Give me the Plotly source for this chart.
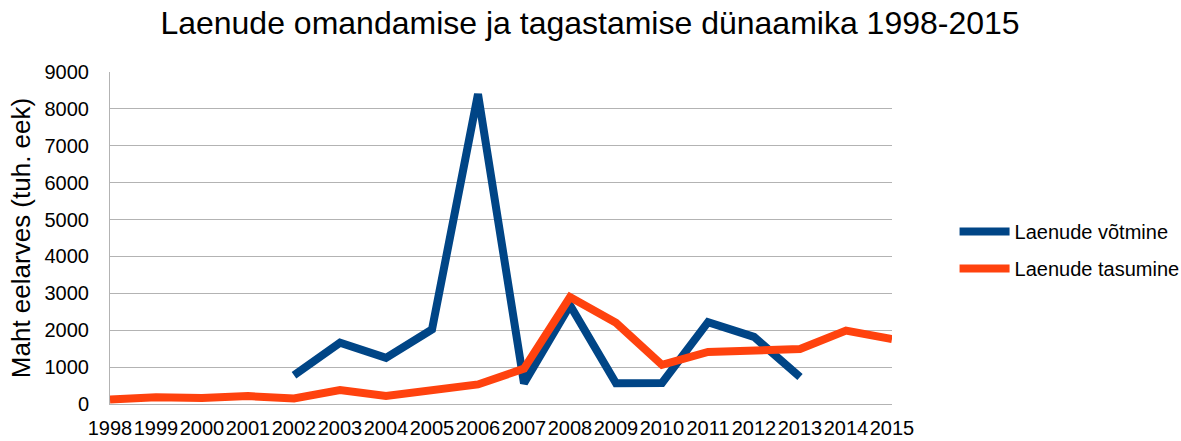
import plotly.graph_objects as go

years = list(range(1998, 2016))
year_labels = [str(y) for y in years]
laenude_votmine = [None, None, None, None, 780, 1660, 1250, 2020, 8400, 560, 2680, 560, 570, 2220, 1820, 730, None, None]
laenude_tasumine = [125, 180, 160, 215, 150, 380, 215, 350, 530, 960, 2900, 2200, 1060, 1410, 1430, 1490, 1990, 1760]
y_ticks = [0, 1000, 2000, 3000, 4000, 5000, 6000, 7000, 8000, 9000]

fig = go.Figure()
fig.add_trace(go.Scatter(x=years, y=laenude_votmine, mode="lines", name="Laenude võtmine",
                         legendgroup="a",
                         line=dict(color="#004586", width=8), connectgaps=False))
fig.add_trace(go.Scatter(x=years, y=laenude_tasumine, mode="lines", name="Laenude tasumine",
                         legendgroup="b",
                         line=dict(color="#ff420e", width=8)))

fig.update_layout(
    width=1181, height=441,
    margin=dict(l=110, r=289, t=72, b=37, autoexpand=False),
    paper_bgcolor="white", plot_bgcolor="white",
    font=dict(family="Liberation Sans, Arial, sans-serif", color="black"),
    title=dict(text="Laenude omandamise ja tagastamise dünaamika 1998-2015",
               x=590 / 1181, xref="container", xanchor="center", y=1 - 23 / 441, yanchor="middle",
               font=dict(size=32), automargin=False),
    showlegend=True,
    legend=dict(x=1.08, xanchor="left", y=0.464, yanchor="middle",
                font=dict(size=20), tracegroupgap=8, itemwidth=50,
                bgcolor="rgba(0,0,0,0)"),
)
fig.update_xaxes(range=[1998, 2015], tickmode="array", tickvals=years, ticktext=year_labels,
                 showgrid=False, showline=True, linecolor="#b3b3b3", linewidth=1,
                 tickfont=dict(size=20), ticks="", ticklabelstandoff=6, tickangle=0,
                 zeroline=False, automargin=False)
fig.update_yaxes(range=[0, 9000], tickmode="array", tickvals=y_ticks,
                 showgrid=True, gridcolor="#b3b3b3", gridwidth=1,
                 showline=True, linecolor="#b3b3b3", linewidth=1,
                 tickfont=dict(size=20), ticks="", ticklabelstandoff=16,
                 zeroline=False, automargin=False,
                 title=dict(text="Maht eelarves (tuh. eek)", font=dict(size=26), standoff=6))

fig.write_html("out.html", config={"displayModeBar": False},
               post_script="document.body.style.margin='0';document.body.style.overflow='hidden';")
